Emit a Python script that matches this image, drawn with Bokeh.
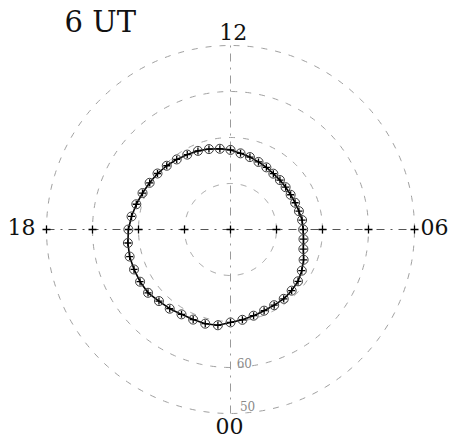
import numpy as np
from bokeh.plotting import figure
from bokeh.models import ColumnDataSource
from bokeh.core.properties import value
from bokeh.embed import file_html
from bokeh.resources import INLINE

# ---- data ----
title_text = "6 UT"
mlt_labels = ["12", "18", "06", "00"]
lat_labels = ["60", "50"]
circle_colat = [10, 20, 30, 40]          # dial circles, degrees colatitude
tick_colat = [10, 20, 30, 40]

ring_mlt = [0.0, 0.5, 1.0, 1.5, 2.0, 2.5, 3.0, 3.5, 4.0, 4.5, 5.0, 5.5,
            6.0, 6.5, 7.0, 7.5, 8.0, 8.5, 9.0, 9.5, 10.0, 10.5, 11.0, 11.5,
            12.0, 12.5, 13.0, 13.5, 14.0, 14.5, 15.0, 15.5, 16.0, 16.5, 17.0, 17.5,
            18.0, 18.5, 19.0, 19.5, 20.0, 20.5, 21.0, 21.5, 22.0, 22.5, 23.0, 23.5]
ring_colat = [20.2, 19.8, 19.4, 19.1, 19.0, 19.0, 18.8, 18.5, 17.9, 17.2, 16.4, 16.0,
              15.8, 15.7, 15.4, 15.2, 15.1, 15.1, 15.2, 15.3, 15.6, 15.9, 16.3, 16.7,
              17.3, 17.7, 18.1, 18.5, 18.8, 19.2, 19.6, 20.0, 20.3, 20.7, 21.2, 21.7,
              22.2, 22.5, 22.7, 22.7, 22.7, 22.6, 22.0, 21.7, 21.3, 21.2, 21.2, 21.0]


def to_xy(mlt, colat):
    th = np.radians(np.asarray(mlt) * 15.0)
    r = np.asarray(colat, dtype=float)
    return r * np.sin(th), -r * np.cos(th)


SC = 4.6  # px per degree
W, H = 456, 442
CX, CY = 230, 229  # dial centre in figure pixels (from top-left)

p = figure(width=W, height=H, output_backend="svg", toolbar_location=None,
           x_range=(-CX / SC, (W - CX) / SC), y_range=(-(H - CY) / SC, CY / SC),
           min_border=0, min_border_left=0, min_border_right=0,
           min_border_top=0, min_border_bottom=0)
p.axis.visible = False
p.grid.visible = False
p.outline_line_color = None
p.background_fill_color = "white"
p.border_fill_color = "white"

# dial circles
th = np.linspace(0, 2 * np.pi, 361)
for c in circle_colat:
    p.line(c * np.cos(th), c * np.sin(th), line_color="#a0a0a0", line_width=1,
           line_dash="6 8")

# axes lines (dash-dot)
R = circle_colat[-1]
p.line([-R, R], [0, 0], line_color="#555555", line_width=1, line_dash="8 6 2 6")
p.line([0, 0], [-R, R], line_color="#9a9a9a", line_width=1, line_dash="8 6 2 6")

# axis tick crosses
tx = [-c for c in tick_colat] + [0] + tick_colat
p.scatter(tx, [0] * len(tx), marker="cross", size=8, line_color="black", line_width=1.3)

# ring
rx, ry = to_xy(ring_mlt, ring_colat)
src = ColumnDataSource(dict(x=rx, y=ry))
p.line(list(rx) + [rx[0]], list(ry) + [ry[0]], line_color="black", line_width=1.6)
p.scatter("x", "y", source=src, marker="circle", size=9, fill_color=None,
          line_color="#3a3a3a", line_width=1)
p.scatter("x", "y", source=src, marker="cross", size=7, line_color="black",
          line_width=1.3)

serif = value("DejaVu Serif")

# MLT labels
p.text(x=[0.6], y=[43.0], text=[mlt_labels[0]], text_font=serif, text_font_size="22px",
       text_align="center", text_baseline="middle", text_color="#111111")
p.text(x=[-42.4], y=[0.6], text=[mlt_labels[1]], text_font=serif, text_font_size="22px",
       text_align="right", text_baseline="middle", text_color="#111111")
p.text(x=[41.3], y=[0.6], text=[mlt_labels[2]], text_font=serif, text_font_size="22px",
       text_align="left", text_baseline="middle", text_color="#111111")
p.text(x=[-0.2], y=[-42.8], text=[mlt_labels[3]], text_font=serif, text_font_size="22px",
       text_align="center", text_baseline="middle", text_color="#111111")

# latitude labels
p.text(x=[3.0, 3.7], y=[-29.1, -38.3], text=lat_labels, text_font=serif,
       text_font_size="12px", text_align="center", text_baseline="middle",
       text_color="#8a8a8a")

# title
p.text(x=[-28.3], y=[45.2], text=[title_text], text_font=serif, text_font_size="29px",
       text_align="center", text_baseline="middle", text_color="#111111")

open("out.html", "w").write(file_html(p, INLINE))
